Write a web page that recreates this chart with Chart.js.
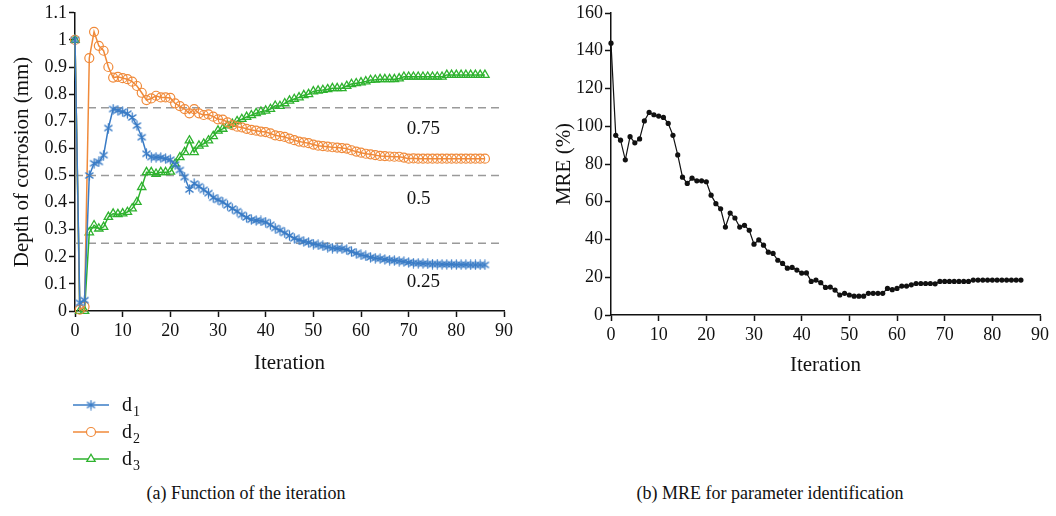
<!DOCTYPE html>
<html>
<head>
<meta charset="utf-8">
<script src="https://cdn.jsdelivr.net/npm/chart.js@4.4.1/dist/chart.umd.min.js"></script>
<style>
  html, body { margin: 0; padding: 0; background: #fff; }
  body { width: 1056px; height: 516px; position: relative; overflow: hidden; font-family: 'Liberation Serif', 'Times New Roman', serif; }
  #wrapA { position: absolute; left: 0; top: 0; width: 530px; height: 470px; }
  #wrapB { position: absolute; left: 530px; top: 0; width: 526px; height: 384px; }
  .cap { position: absolute; top: 483px; font-size: 18px; color: #111; white-space: nowrap; transform: translateX(-50%); }
</style>
</head>
<body>
<div id="wrapA"><canvas id="depth"></canvas></div>
<div id="wrapB"><canvas id="mre"></canvas></div>
<div class="cap" style="left:246px">(a) Function of the iteration</div>
<div class="cap" style="left:770px">(b) MRE for parameter identification</div>

<script>
// ---- data: corrosion depth per iteration (mm) ----
const d1 = [1.0, 0.03, 0.04, 0.50, 0.545, 0.55, 0.575, 0.675, 0.745, 0.74,
  0.735, 0.728, 0.714, 0.684, 0.641, 0.58, 0.568, 0.567, 0.566, 0.562,
  0.558, 0.54, 0.52, 0.494, 0.448, 0.47, 0.46, 0.447, 0.435, 0.418,
  0.41, 0.402, 0.39, 0.378, 0.368, 0.355, 0.345, 0.337, 0.334, 0.332,
  0.328, 0.318, 0.306, 0.298, 0.288, 0.278, 0.268, 0.262, 0.256, 0.253,
  0.247, 0.244, 0.24, 0.236, 0.232, 0.231, 0.23, 0.226, 0.219, 0.213,
  0.207, 0.203, 0.198, 0.195, 0.193, 0.19, 0.188, 0.186, 0.184, 0.182,
  0.179, 0.177, 0.176, 0.175, 0.174, 0.173, 0.173, 0.172, 0.172, 0.172,
  0.171, 0.171, 0.171, 0.17, 0.17, 0.17, 0.17];

const d2 = [1.0, 0.005, 0.016, 0.933, 1.03, 0.978, 0.96, 0.90, 0.861, 0.864,
  0.859, 0.855, 0.846, 0.83, 0.805, 0.778, 0.784, 0.794, 0.788, 0.788,
  0.786, 0.766, 0.756, 0.745, 0.729, 0.745, 0.729, 0.723, 0.725, 0.717,
  0.707, 0.706, 0.696, 0.686, 0.68, 0.677, 0.672, 0.668, 0.665, 0.662,
  0.66, 0.655, 0.648, 0.645, 0.642, 0.636, 0.63, 0.625, 0.622, 0.619,
  0.614, 0.61, 0.608, 0.606, 0.604, 0.603, 0.601, 0.599, 0.593, 0.588,
  0.584, 0.58, 0.578, 0.575, 0.572, 0.571, 0.57, 0.569, 0.569, 0.566,
  0.562, 0.563, 0.562, 0.562, 0.562, 0.562, 0.562, 0.562, 0.562, 0.562,
  0.562, 0.562, 0.562, 0.562, 0.562, 0.562, 0.562];

const d3 = [1.0, 0.0, 0.0, 0.29, 0.316, 0.304, 0.31, 0.347, 0.359, 0.357,
  0.36, 0.365, 0.378, 0.402, 0.457, 0.512, 0.512, 0.506, 0.512, 0.512,
  0.514, 0.543, 0.567, 0.586, 0.629, 0.586, 0.61, 0.617, 0.629, 0.645,
  0.665, 0.672, 0.684, 0.69, 0.70, 0.708, 0.716, 0.722, 0.73, 0.735,
  0.739, 0.745, 0.757, 0.756, 0.766, 0.776, 0.782, 0.788, 0.796, 0.80,
  0.81, 0.813, 0.815, 0.818, 0.822, 0.822, 0.822, 0.83, 0.837, 0.84,
  0.843, 0.847, 0.852, 0.853, 0.855, 0.855, 0.855, 0.855, 0.858, 0.864,
  0.864, 0.864, 0.864, 0.864, 0.864, 0.864, 0.864, 0.864, 0.871, 0.871,
  0.871, 0.871, 0.871, 0.871, 0.871, 0.871, 0.871];

// ---- data: mean relative error per iteration (%) ----
const mre = [144, 95.2, 92.6, 82.2, 94.5, 91.2, 93.3, 102.8, 107.3, 106.1,
  105.4, 104.7, 101.5, 95.2, 84.8, 73.0, 69.7, 72.5, 71.1, 71.1,
  70.6, 63.5, 59.0, 56.3, 46.6, 54.0, 51.4, 46.6, 47.5, 44.9,
  37.5, 39.8, 37.0, 33.3, 32.6, 29.0, 27.3, 24.8, 25.2, 23.8,
  22.2, 22.3, 17.8, 18.5, 17.1, 14.6, 14.8, 13.2, 10.6, 11.5,
  10.6, 10.0, 10.0, 10.0, 11.5, 11.5, 11.5, 11.5, 14.1, 13.4,
  14.1, 15.3, 15.3, 16.0, 16.7, 16.7, 16.7, 16.7, 16.5, 17.8,
  17.8, 17.8, 17.8, 17.8, 17.8, 17.8, 18.5, 18.5, 18.5, 18.5,
  18.5, 18.5, 18.5, 18.5, 18.5, 18.5, 18.5];

const iterations = d1.map((_, i) => i);

// reference depths drawn as dashed guides
const refLevels = [0.75, 0.5, 0.25];
const refLevelLabels = ['0.75', '0.5', '0.25'];

// tick labels
const depthTicks = ['0', '0.1', '0.2', '0.3', '0.4', '0.5', '0.6', '0.7', '0.8', '0.9', '1', '1.1'];
const mreTicks = ['0', '20', '40', '60', '80', '100', '120', '140', '160'];
const iterTicks = ['0', '10', '20', '30', '40', '50', '60', '70', '80', '90'];

const seriesNames = ['d1', 'd2', 'd3'];

// ---- styling ----
const FONT = "'Liberation Serif', 'Times New Roman', serif";
const INK = '#111';
const BLUE = '#3a7cc6', ORANGE = '#f08a3a', GREEN = '#2eb22e';

function xy(values) { return values.map((v, i) => ({ x: iterations[i], y: v })); }

// six-armed asterisk marker for d1
function asteriskMarker(color, size) {
  const c = document.createElement('canvas');
  c.width = size; c.height = size;
  const g = c.getContext('2d');
  g.strokeStyle = color; g.lineWidth = 1.3; g.lineCap = 'round';
  const m = size / 2, r = size / 2 - 1;
  const dx = r * Math.cos(Math.PI / 5), dy = r * Math.sin(Math.PI / 5);
  g.beginPath();
  g.moveTo(m, m - r); g.lineTo(m, m + r);
  g.moveTo(m - dx, m - dy); g.lineTo(m + dx, m + dy);
  g.moveTo(m - dx, m + dy); g.lineTo(m + dx, m - dy);
  g.stroke();
  return c;
}
const starMarker = asteriskMarker(BLUE, 11);

function xAxis(height) {
  return {
    type: 'linear', min: 0, max: 90,
    ticks: { stepSize: 10, color: INK, font: { family: FONT, size: 18 }, padding: 3, maxRotation: 0,
      callback: (v) => iterTicks[Math.round(v / 10)] },
    grid: { drawOnChartArea: false, drawTicks: true, tickLength: 6, tickColor: INK, tickWidth: 1.5 },
    border: { color: INK, width: 1.5 },
    title: { display: true, text: 'Iteration', color: INK, font: { family: FONT, size: 21 }, padding: { top: 4, bottom: 4 } },
    afterFit(s) { s.height = height; }
  };
}

function yAxis(min, max, step, labels, title, width) {
  return {
    type: 'linear', min: min, max: max,
    ticks: { stepSize: step, color: INK, font: { family: FONT, size: 18 }, padding: 2,
      callback: (v) => labels[Math.round((v - min) / step)] },
    grid: { drawOnChartArea: false, drawTicks: true, tickLength: 6, tickColor: INK, tickWidth: 1.5 },
    border: { color: INK, width: 1.5 },
    title: { display: true, text: title, color: INK, font: { family: FONT, size: 21 }, padding: { top: 4, bottom: 4 } },
    afterFit(s) { s.width = width; }
  };
}

// text next to the dashed guide lines
const guideLabels = {
  id: 'guideLabels',
  afterDatasetsDraw(chart, args, opts) {
    const { ctx, scales: { x, y } } = chart;
    ctx.save();
    ctx.font = '19px ' + FONT;
    ctx.fillStyle = INK;
    ctx.textAlign = 'left';
    ctx.textBaseline = 'middle';
    opts.items.forEach(it => ctx.fillText(it.text, x.getPixelForValue(it.x), y.getPixelForValue(it.y)));
    ctx.restore();
  }
};

// vertical legend with subscripted series names, under the plot
const subLegend = {
  id: 'subLegend',
  afterDraw(chart, args, opts) {
    const ctx = chart.ctx;
    opts.rows.forEach((dsIndex, k) => {
      const ds = chart.data.datasets[dsIndex];
      const yy = opts.top + k * opts.gap;
      const cx = opts.left + opts.lineLen / 2;
      ctx.save();
      ctx.strokeStyle = ds.borderColor;
      ctx.lineWidth = ds.borderWidth;
      ctx.beginPath();
      ctx.moveTo(opts.left, yy); ctx.lineTo(opts.left + opts.lineLen, yy);
      ctx.stroke();
      ctx.lineWidth = ds.pointBorderWidth;
      ctx.strokeStyle = ds.pointBorderColor;
      ctx.fillStyle = '#fff';
      const r = ds.pointRadius;
      if (ds.pointStyle === 'circle') {
        ctx.beginPath(); ctx.arc(cx, yy, r, 0, Math.PI * 2); ctx.fill(); ctx.stroke();
      } else if (ds.pointStyle === 'triangle') {
        ctx.beginPath();
        ctx.moveTo(cx, yy - r);
        ctx.lineTo(cx + r * Math.sin(2 * Math.PI / 3), yy - r * Math.cos(2 * Math.PI / 3));
        ctx.lineTo(cx + r * Math.sin(4 * Math.PI / 3), yy - r * Math.cos(4 * Math.PI / 3));
        ctx.closePath(); ctx.fill(); ctx.stroke();
      } else if (ds.pointStyle instanceof HTMLCanvasElement) {
        ctx.drawImage(ds.pointStyle, cx - ds.pointStyle.width / 2, yy - ds.pointStyle.height / 2);
      }
      const name = ds.label;
      ctx.fillStyle = INK;
      ctx.textBaseline = 'alphabetic';
      ctx.textAlign = 'left';
      ctx.font = '20px ' + FONT;
      const tx = opts.left + opts.lineLen + 13;
      ctx.fillText(name.charAt(0), tx, yy + 6);
      const w = ctx.measureText(name.charAt(0)).width;
      ctx.font = '14px ' + FONT;
      ctx.fillText(name.slice(1), tx + w + 1, yy + 11);
      ctx.restore();
    });
  }
};

const guideDatasets = refLevels.map(lv => ({
  label: 'guide ' + lv,
  data: [{ x: 0, y: lv }, { x: 90, y: lv }],
  borderColor: '#9a9a9a', borderWidth: 1.4, borderDash: [8, 5],
  pointRadius: 0, order: 10, clip: false
}));

new Chart(document.getElementById('depth'), {
  type: 'line',
  data: {
    datasets: [
      { label: seriesNames[0], data: xy(d1), borderColor: BLUE, borderWidth: 1.5,
        pointStyle: starMarker, pointRadius: 5, pointBorderColor: BLUE, pointBorderWidth: 1.2,
        pointBackgroundColor: BLUE, tension: 0, clip: false, order: 1 },
      { label: seriesNames[1], data: xy(d2), borderColor: ORANGE, borderWidth: 1.5,
        pointStyle: 'circle', pointRadius: 4.5, pointBorderColor: ORANGE, pointBorderWidth: 1.2,
        pointBackgroundColor: 'rgba(255,255,255,0)', tension: 0, clip: false, order: 2 },
      { label: seriesNames[2], data: xy(d3), borderColor: GREEN, borderWidth: 1.5,
        pointStyle: 'triangle', pointRadius: 4.8, pointBorderColor: GREEN, pointBorderWidth: 1.3,
        pointBackgroundColor: 'rgba(255,255,255,0)', tension: 0, clip: false, order: 3 },
      ...guideDatasets
    ]
  },
  options: {
    responsive: true, maintainAspectRatio: false, animation: false, events: [],
    layout: { padding: { left: 6, top: 11, right: 26, bottom: 90 } },
    plugins: {
      legend: { display: false }, tooltip: { enabled: false },
      guideLabels: { items: [
        { text: refLevelLabels[0], x: 69.6, y: 0.673 },
        { text: refLevelLabels[1], x: 69.6, y: 0.414 },
        { text: refLevelLabels[2], x: 69.6, y: 0.108 }
      ] },
      subLegend: { rows: [0, 1, 2], left: 73, top: 405, gap: 27, lineLen: 36 }
    },
    scales: {
      x: xAxis(69),
      y: yAxis(0, 1.1, 0.1, depthTicks, 'Depth of corrosion (mm)', 69)
    }
  },
  plugins: [guideLabels, subLegend]
});

new Chart(document.getElementById('mre'), {
  type: 'line',
  data: {
    datasets: [
      { label: 'MRE', data: xy(mre), borderColor: INK, borderWidth: 1.2,
        pointStyle: 'circle', pointRadius: 2.6, pointBackgroundColor: INK, pointBorderColor: INK,
        pointBorderWidth: 0, tension: 0, clip: false }
    ]
  },
  options: {
    responsive: true, maintainAspectRatio: false, animation: false, events: [],
    layout: { padding: { left: 18, top: 13, right: 16, bottom: 2 } },
    plugins: { legend: { display: false }, tooltip: { enabled: false } },
    scales: {
      x: xAxis(67),
      y: yAxis(0, 160, 20, mreTicks, 'MRE (%)', 63)
    }
  }
});
</script>
</body>
</html>
